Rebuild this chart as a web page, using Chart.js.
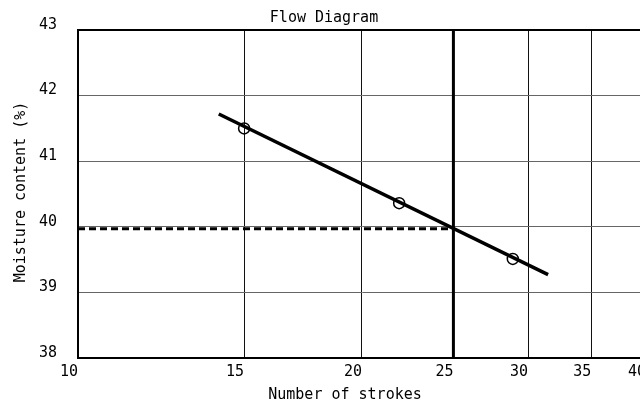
<!DOCTYPE html>
<html lang="en">
  <head>
    <meta charset="UTF-8" />
    <title>Flow Diagram</title>
    <style>
      html, body { margin: 0; padding: 0; background: #fff; overflow: hidden; }
      .chart-box { width: 660px; height: 405px; }
    </style>
  </head>
  <body>
    <div class="chart-box">
      <canvas id="flowChart" width="660" height="405"></canvas>
    </div>

    <script src="https://cdn.jsdelivr.net/npm/chart.js"></script>
    <script>
      // Data
      const strokes = [15.0, 21.9, 28.9];
      const moisture = [41.5, 40.36, 39.51];
      const fitX = [14.1, 31.5];
      const fitY = [41.72, 39.27];
      const liquidLimit = 39.97;
      const refStrokes = 25;
      const xTicks = [10, 15, 20, 25, 30, 35, 40];
      const yTicks = [38, 39, 40, 41, 42, 43];

      const FONT = "'DejaVu Sans Mono', 'Liberation Mono', monospace";

      // axis titles + chart title drawn at fixed spots
      const titlesPlugin = {
        id: 'titles',
        afterDraw(chart) {
          const ctx = chart.ctx;
          ctx.save();
          ctx.fillStyle = '#000';
          ctx.font = '15px ' + FONT;
          ctx.textAlign = 'center';
          ctx.textBaseline = 'alphabetic';
          ctx.fillText('Flow Diagram', 324, 22);
          ctx.fillText('Number of strokes', 345, 399);
          ctx.translate(21, 192);
          ctx.rotate(-Math.PI / 2);
          ctx.textBaseline = 'middle';
          ctx.fillText('Moisture content (%)', 0, 0);
          ctx.restore();
        }
      };

      const ctx = document.getElementById('flowChart').getContext('2d');
      new Chart(ctx, {
        type: 'scatter',
        data: {
          datasets: [
            {
              type: 'line',
              data: fitX.map((x, i) => ({ x: x, y: fitY[i] })),
              borderColor: '#000',
              borderWidth: 3.5,
              pointRadius: 0
            },
            {
              data: strokes.map((x, i) => ({ x: x, y: moisture[i] })),
              pointRadius: 5.5,
              pointBorderWidth: 1.5,
              pointBorderColor: '#000',
              pointBackgroundColor: 'rgba(0,0,0,0)'
            },
            {
              type: 'line',
              data: [{ x: xTicks[0], y: liquidLimit }, { x: refStrokes, y: liquidLimit }],
              borderColor: '#000',
              borderWidth: 3,
              borderDash: [7, 4],
              pointRadius: 0
            },
            {
              type: 'line',
              data: [{ x: refStrokes, y: yTicks[0] }, { x: refStrokes, y: yTicks[yTicks.length - 1] }],
              borderColor: '#000',
              borderWidth: 3,
              pointRadius: 0
            }
          ]
        },
        options: {
          responsive: false,
          animation: false,
          layout: { padding: { left: 0, top: 30, right: 13, bottom: 0 } },
          plugins: {
            legend: { display: false },
            tooltip: { enabled: false }
          },
          scales: {
            x: {
              type: 'logarithmic',
              min: xTicks[0],
              max: xTicks[xTicks.length - 1],
              afterBuildTicks: (scale) => { scale.ticks = xTicks.map(v => ({ value: v })); },
              afterFit: (scale) => { scale.height = 47; },
              border: { color: '#000', width: 2 },
              grid: { color: '#111', lineWidth: 1, drawTicks: false },
              ticks: {
                font: { family: FONT, size: 15 },
                color: '#000',
                padding: 5,
                maxRotation: 0,
                autoSkip: false,
                labelOffset: -9,
                callback: (v) => String(v)
              }
            },
            y: {
              min: yTicks[0],
              max: yTicks[yTicks.length - 1],
              afterBuildTicks: (scale) => { scale.ticks = yTicks.map(v => ({ value: v })); },
              afterFit: (scale) => { scale.width = 78; },
              border: { color: '#000', width: 2 },
              grid: {
                color: (c) => (c.tick && c.tick.value === 43 ? '#000' : '#666'),
                lineWidth: (c) => (c.tick && c.tick.value === 43 ? 2 : 1),
                drawTicks: false
              },
              ticks: {
                font: { family: FONT, size: 15 },
                color: '#000',
                padding: 21,
                labelOffset: -5,
                callback: (v) => String(v)
              }
            }
          }
        },
        plugins: [titlesPlugin]
      });
    </script>
  </body>
</html>
